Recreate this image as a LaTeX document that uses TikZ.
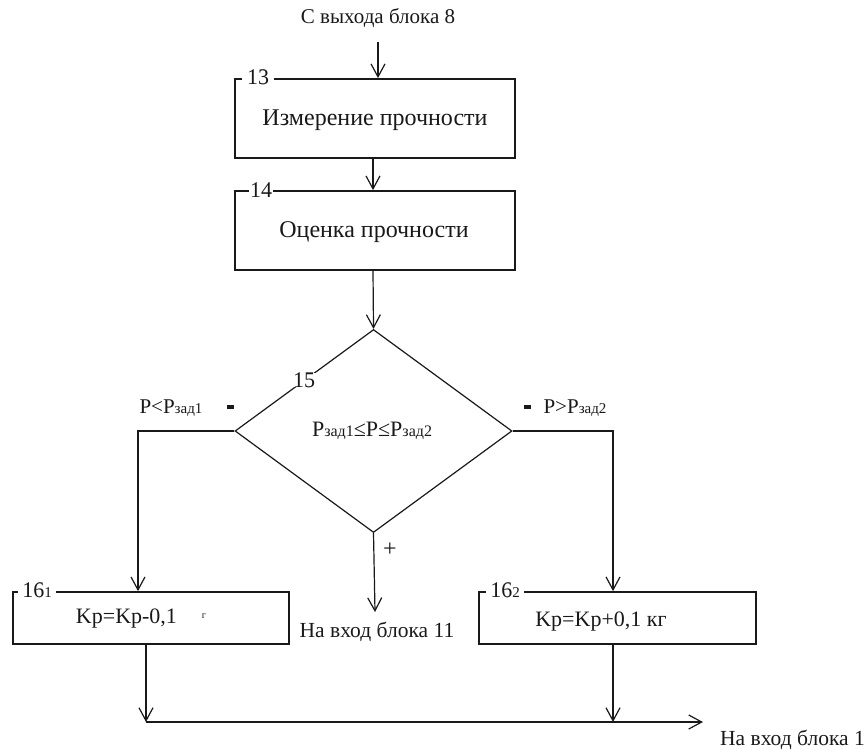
\documentclass[tikz,border=0pt]{standalone}
\usepackage{fontspec}
\setmainfont{Liberation Serif}
\usetikzlibrary{arrows.meta,shapes.geometric}
\definecolor{ink}{gray}{0.1}
% smaller letters for indices such as "зад1"
\newcommand\idx[1]{{\fontsize{15}{15}\selectfont #1}}
\newcommand\idxs[1]{{\fontsize{16}{16}\selectfont #1}}
\tikzset{
  blk/.style={draw=ink, line width=1.7pt, rectangle, inner sep=0pt},
  tag/.style={fill=white, inner sep=0pt, inner xsep=5pt, text=ink,
              font=\fontsize{22}{22}\selectfont},
  flow/.style={draw=ink, line width=1.2pt,
               -{Straight Barb[length=13pt,width=14pt,line width=1.2pt]}},
  txt/.style={inner sep=0pt, text=ink},
  big/.style={font=\fontsize{24}{24}\selectfont},
  kp/.style={font=\fontsize{22}{22}\selectfont},
  mid/.style={font=\fontsize{21.5}{21.5}\selectfont},
  sml/.style={font=\fontsize{21}{21}\selectfont},
  bar/.style={fill=ink, inner sep=0pt, minimum width=7pt, minimum height=3.5pt},
}
\begin{document}
\begin{tikzpicture}[x=1pt,y=-1pt]
\useasboundingbox (0,0) rectangle (866,749);

% process blocks
\node[blk, minimum width=280pt, minimum height=79pt] (b13) at (375,118.5) {};
\node[txt, big] (t13) at (375,120) {Измерение прочности};
\node[blk, minimum width=280pt, minimum height=79pt] (b14) at (375,230.5) {};
\node[txt, big] (t14) at (374,232) {Оценка прочности};

% decision
\node[draw=ink, line width=1.2pt, diamond, inner sep=0pt,
      minimum width=277pt, minimum height=203pt] (d15) at (373.5,431) {};
\node[txt, font=\fontsize{22}{22}\selectfont] (c15) at (372,431)
  {P\idxs{зад1}≤P≤P\idxs{зад2}};

% correction blocks
\node[blk, minimum width=276pt, minimum height=52pt] (b161) at (151,618) {};
\node[txt, kp] (t161) at (126.5,619) {Kp=Kp-0,1};
\node[txt, font=\fontsize{10}{10}\selectfont] (g161) at (204,616) {г};
\node[blk, minimum width=277pt, minimum height=52pt] (b162) at (617.5,618) {};
\node[txt, kp] (t162) at (601,622) {Kp=Kp+0,1 кг};

% block numbers sitting on the top edges
\node[tag] (n13) at (258,77) {13};
\node[tag, inner xsep=1pt] (n14) at (261,190) {14};
\node[tag] (n15) at (304,380) {15};
\node[tag, inner xsep=4pt] (n161) at (37,590) {16\idx{1}};
\node[tag, inner xsep=4pt] (n162) at (505,590) {16\idx{2}};

% inputs and outputs
\node[txt, sml] (src) at (378,18) {С выхода блока 8};
\node[txt, mid] (out11) at (377,632) {На вход блока 11};
\node[txt, mid, anchor=west] (out1) at (720,740) {На вход блока 1};

% branch marks
\node[txt, sml] (lt) at (171,408) {P<P\idx{зад1}};
\node[bar] (ml) at (230,407) {};
\node[bar] (mr) at (527,407) {};
\node[txt, sml] (gt) at (575,408) {P>P\idx{зад2}};
\node[txt, font=\fontsize{24}{24}\selectfont] (plus) at (390,550) {+};

% connectors
\coordinate (s0) at (378,42);
\coordinate (busL) at (146,722);
\coordinate (busR) at (703,722);
\coordinate (o11) at (375,612);
\draw[flow] (s0) -- (s0 |- b13.north);
\draw[flow] ([xshift=-2pt]b13.south) -- ([xshift=-2pt]b14.north);
\draw[flow] ([xshift=-2pt]b14.south) -- (d15.north);
\draw[flow] (d15.west) -| ([xshift=-13pt]b161.north);
\draw[flow] (d15.east) -| ([xshift=-4.5pt]b162.north);
\draw[flow] (d15.south) -- (o11);
\draw[flow] ([xshift=-5pt]b161.south) -- (busL);
\draw[flow] ([xshift=-4.5pt]b162.south) -- ([xshift=-4.5pt]b162.south |- busL);
\draw[flow] (busL) -- (busR);

% redraw the edge labels over the lines
\node[tag] at (n13) {13};
\node[tag, inner xsep=1pt] at (n14) {14};
\node[tag] at (n15) {15};
\node[tag, inner xsep=4pt] at (n161) {16\idx{1}};
\node[tag, inner xsep=4pt] at (n162) {16\idx{2}};
\end{tikzpicture}
\end{document}
